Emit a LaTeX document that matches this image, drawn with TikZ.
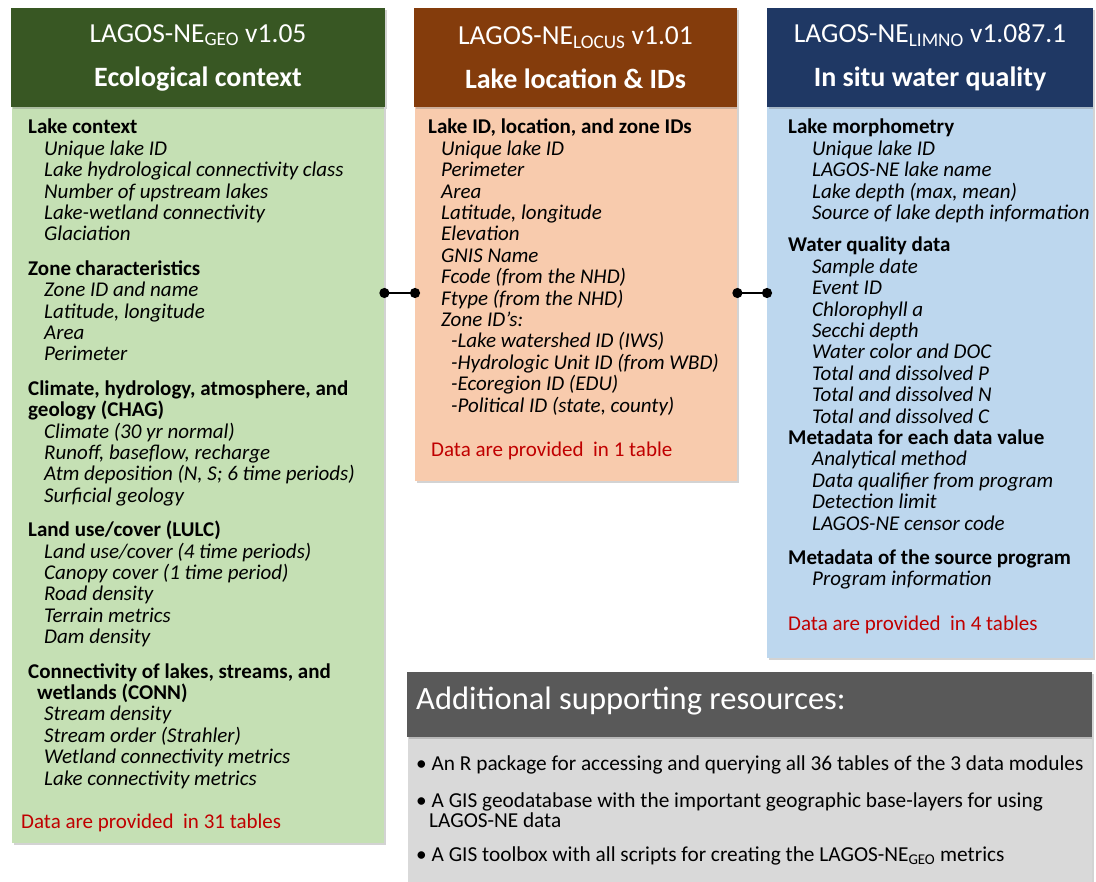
\documentclass[tikz,border=0pt]{standalone}
\usepackage{fontspec}
\setmainfont{Carlito}
\usetikzlibrary{arrows.meta,shadows}

\definecolor{geohead}{HTML}{385723}
\definecolor{geobody}{HTML}{C5E0B4}
\definecolor{locushead}{HTML}{843C0C}
\definecolor{locusbody}{HTML}{F8CBAD}
\definecolor{limnohead}{HTML}{1F3864}
\definecolor{limnobody}{HTML}{BDD7EE}
\definecolor{reshead}{HTML}{595959}
\definecolor{resbody}{HTML}{D9D9D9}
\definecolor{notered}{HTML}{C00000}

\newcommand\itm[2][16pt]{\hspace*{#1}\textit{#2}}

\tikzset{
  shade box/.style={drop shadow={shadow xshift=2pt,shadow yshift=-2pt,opacity=.35}},
  headbox/.style={shade box, inner sep=0pt, minimum height=99pt, text=white,
    align=center, font=\fontsize{27.5}{44}\selectfont},
  bodybox/.style={shade box, anchor=north west, inner sep=0pt},
  list/.style={anchor=north west, inner sep=0pt, align=left,
    font=\fontsize{21}{21.4}\selectfont},
  note/.style={list, text=notered},
  res/.style={list, anchor=west, font=\fontsize{21.3}{17}\selectfont},
  link/.style={line width=2.5pt, {Circle[length=10pt]}-{Circle[length=10pt]},
    shorten <=-5pt, shorten >=-5pt}
}

\begin{document}
\begin{tikzpicture}[x=1pt,y=-1pt]
  \useasboundingbox (0,0) rectangle (1096,882);

  % geo module
  \node[bodybox, fill=geobody, minimum width=372pt, minimum height=736pt] (gbody) at (12,107) {};
  \node[headbox, fill=geohead, minimum width=374pt] (ghead) at (198,57.5)
    {LAGOS-NE\textsubscript{GEO} v1.05\\{\bfseries\fontsize{28}{44}\selectfont Ecological context}};
  \node[list] (glist) at (28,119) {%
    \textbf{Lake context}\\
    \itm{Unique lake ID}\\
    \itm{Lake hydrological connectivity class}\\
    \itm{Number of upstream lakes}\\
    \itm{Lake-wetland connectivity}\\
    \itm{Glaciation}\\[13pt]
    \textbf{Zone characteristics}\\
    \itm{Zone ID and name}\\
    \itm{Latitude, longitude}\\
    \itm{Area}\\
    \itm{Perimeter}\\[13pt]
    \textbf{Climate, hydrology, atmosphere, and}\\
    \textbf{geology (CHAG)}\\
    \itm{Climate (30 yr normal)}\\
    \itm{Runoff, baseflow, recharge}\\
    \itm{Atm deposition (N, S; 6 time periods)}\\
    \itm{Surficial geology}\\[13pt]
    \textbf{Land use/cover (LULC)}\\
    \itm{Land use/cover (4 time periods)}\\
    \itm{Canopy cover (1 time period)}\\
    \itm{Road density}\\
    \itm{Terrain metrics}\\
    \itm{Dam density}\\[13pt]
    \textbf{Connectivity of lakes, streams, and}\\
    \hspace*{9pt}\textbf{wetlands (CONN)}\\
    \itm{Stream density}\\
    \itm{Stream order (Strahler)}\\
    \itm{Wetland connectivity metrics}\\
    \itm{Lake connectivity metrics}};
  \node[note] (gnote) at (21,814) {Data are provided\ \ in 31 tables};

  % locus module
  \node[bodybox, fill=locusbody, minimum width=322pt, minimum height=374pt] (obody) at (415,107) {};
  \node[headbox, fill=locushead, minimum width=323pt] (ohead) at (575.5,57.5)
    {LAGOS-NE\textsubscript{LOCUS} v1.01\\{\bfseries\fontsize{28}{44}\selectfont Lake location \& IDs}};
  \node[list] (olist) at (428,119) {%
    \textbf{Lake ID, location, and zone IDs}\\
    \itm[13pt]{Unique lake ID}\\
    \itm[13pt]{Perimeter}\\
    \itm[13pt]{Area}\\
    \itm[13pt]{Latitude, longitude}\\
    \itm[13pt]{Elevation}\\
    \itm[13pt]{GNIS Name}\\
    \itm[13pt]{Fcode (from the NHD)}\\
    \itm[13pt]{Ftype (from the NHD)}\\
    \itm[13pt]{Zone ID’s:}\\
    \itm[23pt]{-Lake watershed ID (IWS)}\\
    \itm[23pt]{-Hydrologic Unit ID (from WBD)}\\
    \itm[23pt]{-Ecoregion ID (EDU)}\\
    \itm[23pt]{-Political ID (state, county)}};
  \node[note] (onote) at (431,442) {Data are provided\ \ in 1 table};

  % limno module
  \node[bodybox, fill=limnobody, minimum width=326pt, minimum height=551pt] (bbody) at (767,107) {};
  \node[headbox, fill=limnohead, minimum width=326pt] (bhead) at (930,57.5)
    {LAGOS-NE\textsubscript{LIMNO} v1.087.1\\{\bfseries\fontsize{28}{44}\selectfont In situ water quality}};
  \node[list] (blist) at (788,119) {%
    \textbf{Lake morphometry}\\
    \itm[24pt]{Unique lake ID}\\
    \itm[24pt]{LAGOS-NE lake name}\\
    \itm[24pt]{Lake depth (max, mean)}\\
    \itm[24pt]{Source of lake depth information}\\[11pt]
    \textbf{Water quality data}\\
    \itm[24pt]{Sample date}\\
    \itm[24pt]{Event ID}\\
    \itm[24pt]{Chlorophyll a}\\
    \itm[24pt]{Secchi depth}\\
    \itm[24pt]{Water color and DOC}\\
    \itm[24pt]{Total and dissolved P}\\
    \itm[24pt]{Total and dissolved N}\\
    \itm[24pt]{Total and dissolved C}\\
    \textbf{Metadata for each data value}\\
    \itm[24pt]{Analytical method}\\
    \itm[24pt]{Data qualifier from program}\\
    \itm[24pt]{Detection limit}\\
    \itm[24pt]{LAGOS-NE censor code}\\[13pt]
    \textbf{Metadata of the source program}\\
    \itm[24pt]{Program information}};
  \node[note] (bnote) at (788,616) {Data are provided\ \ in 4 tables};

  % links between modules
  \coordinate (lk) at (0,293);
  \foreach \a/\b in {gbody/obody, obody/bbody}
    \draw[link] (\a.east |- lk) -- (\b.west |- lk);

  % supporting resources
  \node[bodybox, fill=resbody, minimum width=684pt, minimum height=146pt] (rbody) at (408,737) {};
  \node[bodybox, fill=reshead, minimum width=685pt, minimum height=65pt] (rhead) at (407,672) {};
  \node[anchor=west, inner sep=0pt, text=white, font=\fontsize{32.5}{34}\selectfont]
    (rtitle) at (416,701) {Additional supporting resources:};
  \node[res] (r1) at (416,765)
    {\textbullet\ An R package for accessing and querying all 36 tables of the 3 data modules};
  \node[res] (r2) at (416,810)
    {\textbullet\ A GIS geodatabase with the important geographic base-layers for using\\
     \hspace*{13pt}LAGOS-NE data};
  \node[res] (r3) at (416,856)
    {\textbullet\ A GIS toolbox with all scripts for creating the LAGOS-NE\textsubscript{GEO} metrics};
\end{tikzpicture}
\end{document}
